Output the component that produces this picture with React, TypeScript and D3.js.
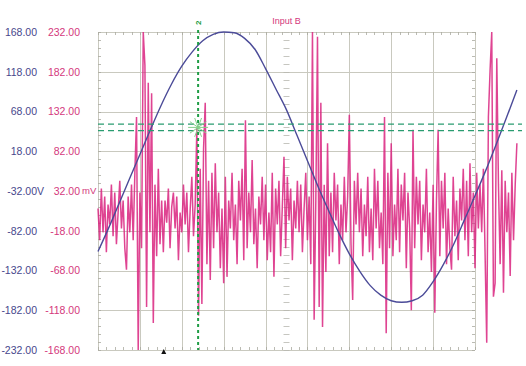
// App.tsx
import React, { useRef, useEffect } from "react";
import * as d3 from "d3";

// Horizontal axis in screen divisions (9 visible), data runs a bit past the right edge
const DIVISIONS_X = 9;
const BLUE_STEP = 0.25; // divisions between blue samples
const PINK_STEP = 0.04; // divisions between pink samples

// Left axis (Volts) and second axis (millivolts), top to bottom
const voltTicks = [168, 118, 68, 18, -32, -82, -132, -182, -232];
const milliVoltTicks = [232, 182, 132, 82, 32, -18, -68, -118, -168];

// Blue trace, Volts
const blueVolts = [
  -108, -79, -48, -17, 14, 45, 75, 102, 125, 143, 157, 165, 168, 167, 160, 146,
  122, 96, 70, 38, 6, -26, -56, -85, -111, -133, -151, -163, -170, -172, -170,
  -163, -146, -124, -98, -68, -38, -7, 26, 60, 95,
];

// Pink trace (Input B), millivolts
const pinkMilliVolts = [
  10, -30, 35, -20, 25, -45, 15, -10, 40, -25,
  30, -35, 5, 45, -15, 20, -40, -67, 25, -20,
  40, -30, 55, 125, -168, 30, -40, 232, 190, -114,
  168, -20, 155, -134, 40, -50, 60, -35, 20, -45,
  20, -8, 35, -40, 12, 30, -15, 25, -55, 5,
  -20, 40, -10, 30, -45, 8, 50, -25, 15, 112,
  -125, 60, -110, 85, 143, -60, 45, -80, 55, -40,
  67, -20, 30, -65, 10, -84, 50, -76, 20, -15,
  55, -30, 15, -60, 45, -5, 60, -55, 121, -40,
  30, -20, 71, -35, 10, -65, 25, -10, 50, -30,
  40, -55, 5, -45, 55, -76, 35, -10, 45, -50,
  12, 75, -40, 50, -5, 35, -55, 20, -15, 45,
  -20, 40, -45, 10, 55, -30, 25, -60, 232, -130,
  20, 226, -114, 143, -139, 40, -70, 92, -50, 30,
  -45, 55, -5, 40, -60, 15, -30, 50, -20, 25,
  128, -35, -105, 45, -10, 55, -20, 35, -50, 15,
  -25, 50, -45, 10, -55, 60, -15, 45, -40, 5,
  -60, 125, -147, 55, -40, 92, -50, 15, -30, 60,
  -45, 40, -5, 55, -65, 30, -15, -118, 109, -40,
  50, -10, 45, -55, 15, -20, 60, -45, 5, -70,
  40, -121, 20, 109, -50, 45, -15, 55, -60, 10,
  -40, -67, 50, -25, 20, -55, 35, -5, 60, -30,
  45, -50, 67, -20, 30, -65, 55, -15, 40, -20,
  60, -45, -159, 125, 184, 232, -101, -84, 199, 40,
  -60, 58, -96, 45, -20, 30, -75, 55, -30, 40, 92,
];

// Cursors
const cursorTime = 2.39; // divisions
const cursorVolts = [52, 44];

const blueColor = "#4b4b98";
const pinkColor = "#d9237f";
const gridColor = "#c9c9bf";
const cursorGreen = "#1f9d45";

const App: React.FC = () => {
  const ref = useRef<SVGSVGElement | null>(null);

  useEffect(() => {
    if (!ref.current) return;
    const width = 526;
    const height = 366;
    const left = 98, right = 475, top = 32, bottom = 350;

    const svg = d3.select(ref.current)
      .attr("width", width)
      .attr("height", height)
      .attr("font-family", "'Liberation Sans', Arial, sans-serif");

    const x = d3.scaleLinear().domain([0, DIVISIONS_X]).range([left, right]);
    const yV = d3.scaleLinear().domain([-232, 168]).range([bottom, top]);
    const ymV = d3.scaleLinear().domain([-168, 232]).range([bottom, top]);

    svg.append("rect").attr("width", width).attr("height", height).attr("fill", "#fff");

    // grid
    const grid = svg.append("g").attr("stroke", gridColor).attr("stroke-width", 1).attr("fill", "none");
    grid.selectAll("line.h")
      .data(voltTicks)
      .join("line")
      .attr("x1", left).attr("x2", right)
      .attr("y1", (d) => Math.round(yV(d)) + 0.5)
      .attr("y2", (d) => Math.round(yV(d)) + 0.5);
    grid.selectAll("line.v")
      .data(d3.range(0, DIVISIONS_X + 1))
      .join("line")
      .attr("class", "v")
      .attr("y1", top).attr("y2", bottom)
      .attr("x1", (d) => Math.round(x(d)) + 0.5)
      .attr("x2", (d) => Math.round(x(d)) + 0.5);

    // minor ticks on the frame and centre axes
    const minorX = d3.range(0, DIVISIONS_X * 5 + 1).map((i) => i / 5);
    const minorY = d3.range(0, 8 * 5 + 1).map((i) => -232 + i * 10);
    const ticks = svg.append("g").attr("stroke", "#a9a9a0").attr("stroke-width", 0.8);
    minorX.forEach((t) => {
      const px = Math.round(x(t)) + 0.5;
      ticks.append("line").attr("x1", px).attr("x2", px).attr("y1", top).attr("y2", top + 3);
      ticks.append("line").attr("x1", px).attr("x2", px).attr("y1", bottom - 3).attr("y2", bottom);
    });
    minorY.forEach((v) => {
      const py = Math.round(yV(v)) + 0.5;
      ticks.append("line").attr("x1", left).attr("x2", left + 3).attr("y1", py).attr("y2", py);
      ticks.append("line").attr("x1", right - 3).attr("x2", right).attr("y1", py).attr("y2", py);
      const cx = x(DIVISIONS_X / 2);
      ticks.append("line").attr("x1", cx - 3).attr("x2", cx + 3).attr("y1", py).attr("y2", py)
        .attr("stroke", "#b8b8b0");
    });

    // axis labels
    const labels = svg.append("g").attr("font-size", 10.5);
    voltTicks.forEach((v, i) => {
      const py = yV(v);
      labels.append("text").attr("x", 37).attr("y", py).attr("dy", "0.36em")
        .attr("text-anchor", "end").attr("fill", "#47478c").text(v.toFixed(2));
      labels.append("text").attr("x", 80).attr("y", py).attr("dy", "0.36em")
        .attr("text-anchor", "end").attr("fill", "#d4387c").text(milliVoltTicks[i].toFixed(2));
      if (v === -32) {
        labels.append("text").attr("x", 37).attr("y", py).attr("dy", "0.36em")
          .attr("fill", "#47478c").text("V");
        labels.append("text").attr("x", 82).attr("y", py).attr("dy", "0.36em")
          .attr("font-size", 9.5).attr("fill", "#d4387c").text("mV");
      }
    });

    svg.append("text").attr("x", x(DIVISIONS_X / 2)).attr("y", 24)
      .attr("text-anchor", "middle").attr("font-size", 9).attr("fill", "#d4387c").text("Input B");

    // pink trace
    const pinkLine = d3.line<number>()
      .x((_d, i) => x(i * PINK_STEP))
      .y((d) => ymV(d));
    svg.append("path")
      .datum(pinkMilliVolts)
      .attr("fill", "none")
      .attr("stroke", pinkColor)
      .attr("stroke-width", 1.5)
      .attr("stroke-opacity", 0.85)
      .attr("stroke-linejoin", "bevel")
      .attr("d", pinkLine);

    // blue trace
    const blueLine = d3.line<number>()
      .x((_d, i) => x(i * BLUE_STEP))
      .y((d) => Math.max(top, yV(d)))
      .curve(d3.curveMonotoneX);
    svg.append("path")
      .datum(blueVolts)
      .attr("fill", "none")
      .attr("stroke", blueColor)
      .attr("stroke-width", 1.4)
      .attr("d", blueLine);

    // cursors
    cursorVolts.forEach((v) => {
      svg.append("line")
        .attr("x1", left).attr("x2", 522)
        .attr("y1", yV(v)).attr("y2", yV(v))
        .attr("stroke", "#2a9c70").attr("stroke-width", 1.2)
        .attr("stroke-dasharray", "6,4");
    });
    const cx = x(cursorTime);
    svg.append("line")
      .attr("x1", cx).attr("x2", cx).attr("y1", 30).attr("y2", bottom)
      .attr("stroke", cursorGreen).attr("stroke-width", 2)
      .attr("stroke-dasharray", "3,3");
    svg.append("text")
      .attr("transform", `translate(${cx + 3},25) rotate(-90)`)
      .attr("font-size", 8).attr("font-weight", "bold").attr("fill", cursorGreen).text("2");

    // star marker at the cursor crossing
    const sy = yV(d3.mean(cursorVolts)!);
    const star = svg.append("g").attr("stroke", "#86d08a").attr("stroke-width", 1);
    [0, 35, 70, 110, 145].forEach((a) => {
      const r = (a * Math.PI) / 180;
      star.append("line")
        .attr("x1", cx - 10 * Math.cos(r)).attr("x2", cx + 10 * Math.cos(r))
        .attr("y1", sy - 10 * Math.sin(r)).attr("y2", sy + 10 * Math.sin(r));
    });

    // trigger marker
    const tx = x(1.57);
    svg.append("path")
      .attr("d", `M${tx},${bottom - 1}L${tx - 2.5},${bottom + 4}L${tx + 2.5},${bottom + 4}Z`)
      .attr("fill", "#111");

    return () => {
      svg.selectAll("*").remove();
    };
  }, []);

  return (
    <svg ref={ref} style={{ position: "absolute", left: 0, top: 0, display: "block" }}></svg>
  );
};

export default App;
